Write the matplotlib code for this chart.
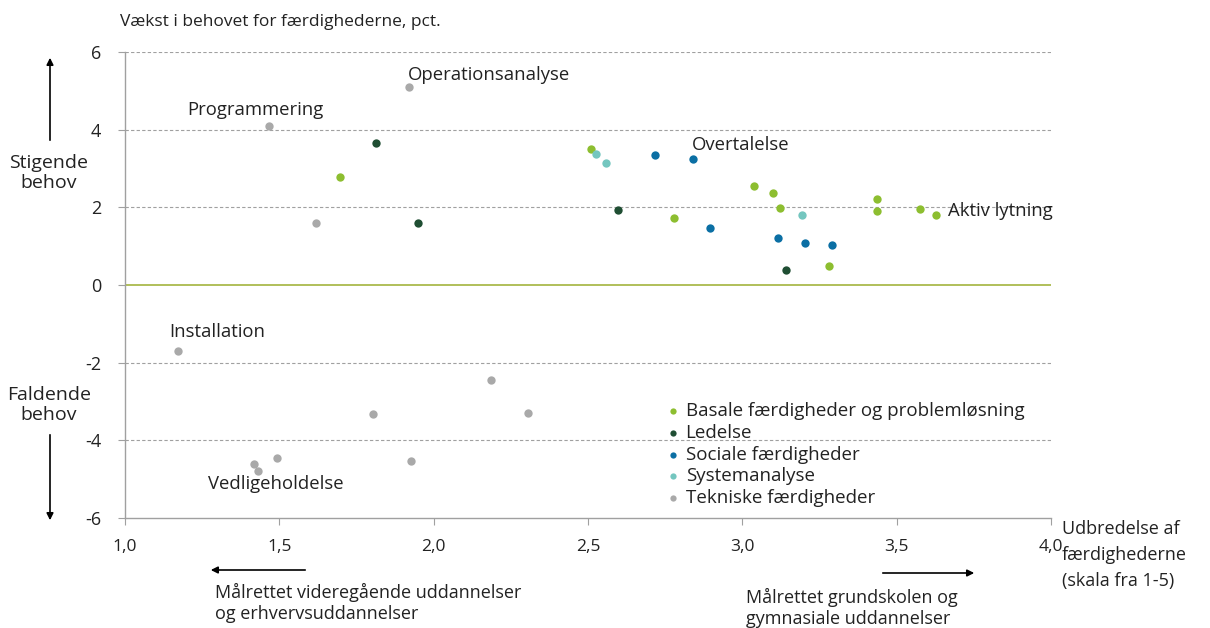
import matplotlib.pyplot as plt

# data: x = udbredelse (1-5), y = vækst i pct.
basale_x = [1.695, 2.511, 3.037, 3.098, 3.122, 2.780, 3.435, 3.436, 3.576, 3.628, 3.281]
basale_y = [2.78, 3.50, 2.55, 2.36, 1.99, 1.72, 2.21, 1.91, 1.96, 1.81, 0.50]
ledelse_x = [1.812, 1.948, 2.598, 3.140]
ledelse_y = [3.65, 1.59, 1.93, 0.38]
sociale_x = [2.716, 2.839, 2.894, 3.114, 3.202, 3.289]
sociale_y = [3.34, 3.24, 1.47, 1.21, 1.08, 1.03]
system_x = [2.525, 2.557, 3.192]
system_y = [3.37, 3.15, 1.79]
tekn_x = [1.919, 1.465, 1.620, 1.173, 2.186, 2.305, 1.803, 1.927, 1.492, 1.418, 1.431]
tekn_y = [5.10, 4.10, 1.59, -1.70, -2.44, -3.30, -3.31, -4.53, -4.45, -4.62, -4.78]

series = [
    ("Basale færdigheder og problemløsning", basale_x, basale_y, "#8DBE30"),
    ("Ledelse", ledelse_x, ledelse_y, "#1F4E33"),
    ("Sociale færdigheder", sociale_x, sociale_y, "#0B6FA4"),
    ("Systemanalyse", system_x, system_y, "#74C6BF"),
    ("Tekniske færdigheder", tekn_x, tekn_y, "#A9A9A9"),
]

labels = ["Operationsanalyse", "Programmering", "Overtalelse", "Aktiv lytning",
          "Installation", "Vedligeholdelse"]
label_x = [1.915, 1.202, 2.835, 3.665, 1.142, 1.270]
label_y = [5.4, 4.5, 3.6, 1.9, -1.22, -5.12]

x_ticks = [1.0, 1.5, 2.0, 2.5, 3.0, 3.5, 4.0]
y_ticks = [-6, -4, -2, 0, 2, 4, 6]

plt.rcParams['font.family'] = ['Open Sans', 'DejaVu Sans']
txt = '#222222'

fig = plt.figure(figsize=(12.1, 6.28), dpi=100)
ax = fig.add_axes([125 / 1210, 110 / 628, 926 / 1210, 466 / 628])

for name, xs, ys, c in series:
    ax.scatter(xs, ys, s=36, color=c, label=name, zorder=3, linewidths=0)

ax.set_xlim(1.0, 4.0)
ax.set_ylim(-6, 6)
ax.set_yticks(y_ticks)
ax.set_yticklabels([str(v) for v in y_ticks])
ax.set_xticks(x_ticks)
ax.set_xticklabels([f"{v:.1f}".replace('.', ',') for v in x_ticks], fontsize=12.5)

for v in y_ticks:
    if v == 0:
        ax.axhline(0, color='#A3B43E', lw=1.2, zorder=2)
    elif v != -6:
        ax.axhline(v, color='#A0A0A0', lw=0.8, ls=(0, (3, 2)), zorder=1)

for s in ['top', 'right']:
    ax.spines[s].set_visible(False)
for s in ['left', 'bottom']:
    ax.spines[s].set_color('#A0A0A0')
    ax.spines[s].set_linewidth(1.0)
ax.tick_params(axis='y', length=5, color='#A0A0A0', labelsize=13, labelcolor=txt, pad=12)
ax.tick_params(axis='x', length=5, color='#A0A0A0', labelcolor=txt, pad=10)

for t, lx, ly in zip(labels, label_x, label_y):
    ax.text(lx, ly, t, fontsize=13.3, color=txt, va='center', ha='left')

leg = ax.legend(loc='upper left', bbox_to_anchor=(0.574, 0.265), frameon=False,
                fontsize=13.5, handletextpad=0.15, labelspacing=0.2, markerscale=0.75,
                borderaxespad=0, handlelength=1.0)
for t in leg.get_texts():
    t.set_color(txt)

fig.text(120 / 1210, 1 - 22 / 628, "Vækst i behovet for færdighederne, pct.",
         fontsize=12.5, color=txt, va='center', ha='left')

fig.text(49 / 1210, 1 - 173 / 628, "Stigende\nbehov", fontsize=14, color=txt,
         ha='center', va='center', linespacing=1.1)
fig.text(49 / 1210, 1 - 405 / 628, "Faldende\nbehov", fontsize=14, color=txt,
         ha='center', va='center', linespacing=1.1)

arrow = dict(arrowstyle='-|>', color='black', lw=1.2, mutation_scale=10)
fig.add_artist(plt.Annotation('', xy=(50 / 1210, 1 - 55 / 628), xytext=(50 / 1210, 1 - 143 / 628),
                              xycoords='figure fraction', arrowprops=arrow))
fig.add_artist(plt.Annotation('', xy=(50 / 1210, 1 - 523 / 628), xytext=(50 / 1210, 1 - 432 / 628),
                              xycoords='figure fraction', arrowprops=arrow))
fig.add_artist(plt.Annotation('', xy=(208 / 1210, 1 - 570 / 628), xytext=(308 / 1210, 1 - 570 / 628),
                              xycoords='figure fraction', arrowprops=arrow))
fig.add_artist(plt.Annotation('', xy=(977 / 1210, 1 - 573 / 628), xytext=(880 / 1210, 1 - 573 / 628),
                              xycoords='figure fraction', arrowprops=arrow))

fig.text(215 / 1210, 1 - 603 / 628, "Målrettet videregående uddannelser\nog erhvervsuddannelser",
         fontsize=13, color=txt, ha='left', va='center', linespacing=1.2)
fig.text(746 / 1210, 1 - 608 / 628, "Målrettet grundskolen og\ngymnasiale uddannelser",
         fontsize=13, color=txt, ha='left', va='center', linespacing=1.2)
fig.text(1062 / 1210, 1 - 555 / 628, "Udbredelse af\nfærdighederne\n(skala fra 1-5)",
         fontsize=13, color=txt, ha='left', va='center', linespacing=1.55)

fig.savefig('out.png', dpi=100, facecolor='white')
